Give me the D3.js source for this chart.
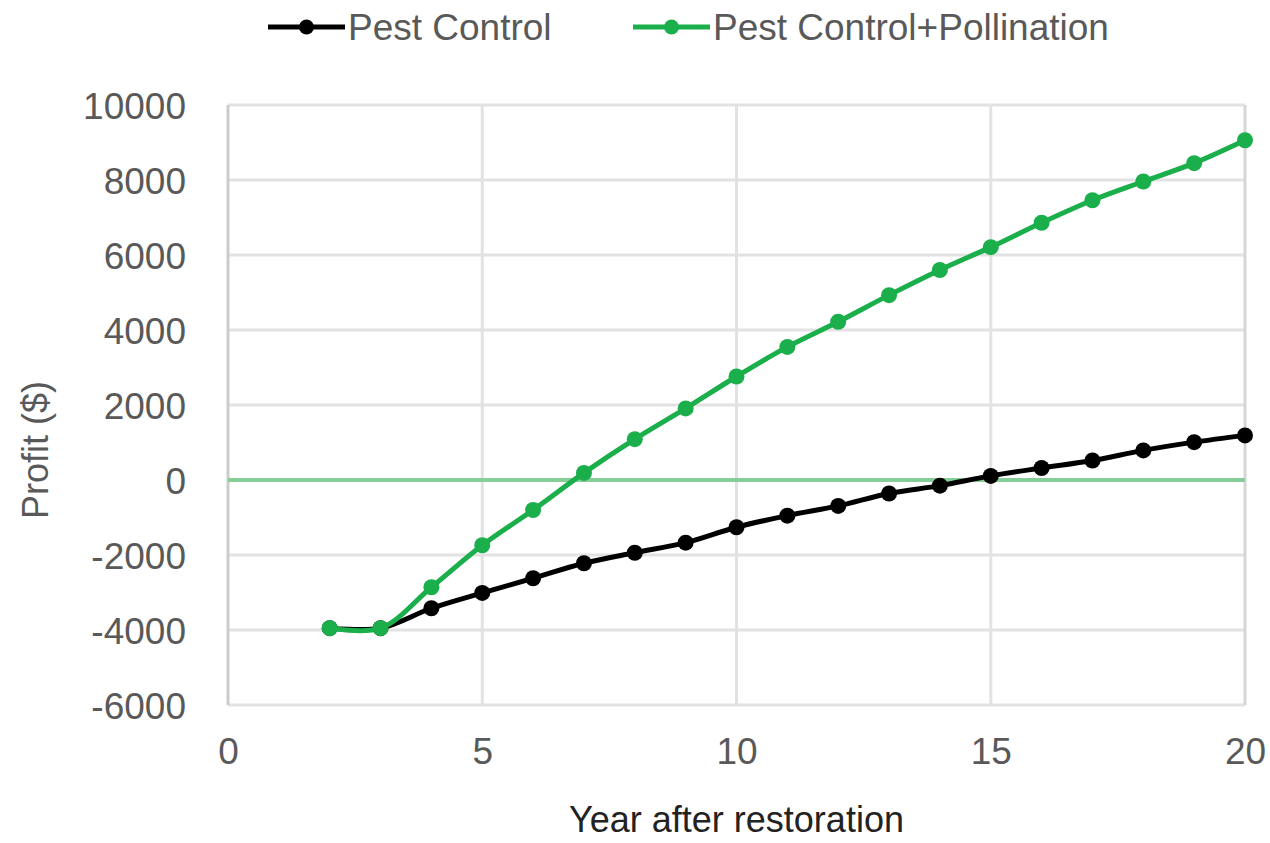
<!DOCTYPE html>
<html>
<head>
<meta charset="utf-8">
<script src="https://cdn.jsdelivr.net/npm/d3@7"></script>
<style>
  body { margin: 0; background: #fff; }
  text { font-family: "Liberation Sans", Arial, sans-serif; fill: #595959; }
</style>
</head>
<body>
<div id="chart"></div>
<script>
// Year after restoration
const years = [2, 3, 4, 5, 6, 7, 8, 9, 10, 11, 12, 13, 14, 15, 16, 17, 18, 19, 20];

// Profit ($) per series
const pestControl = [-3950, -3950, -3420, -3010, -2620, -2220, -1940, -1670, -1260, -950, -690, -360, -150, 110, 320, 520, 790, 1010, 1190];
const pestPollination = [-3950, -3950, -2860, -1740, -800, 190, 1090, 1910, 2760, 3550, 4220, 4930, 5600, 6210, 6860, 7460, 7960, 8450, 9060];

const xTicks = [0, 5, 10, 15, 20];
const yTicks = [-6000, -4000, -2000, 0, 2000, 4000, 6000, 8000, 10000];

const seriesNames = ["Pest Control", "Pest Control+Pollination"];
const seriesColors = ["#000000", "#1aaf4b"];

// chart box
const margin = { top: 105, right: 25, bottom: 138, left: 228 },
    width = 1270 - margin.left - margin.right,
    height = 843 - margin.top - margin.bottom;

const svg = d3.select("#chart")
    .append("svg")
    .attr("width", 1270)
    .attr("height", 843);

const g = svg.append("g")
    .attr("transform", `translate(${margin.left},${margin.top})`);

const x = d3.scaleLinear().domain([0, 20]).range([0, width]);
const y = d3.scaleLinear().domain([-6000, 10000]).range([height, 0]);

// plain hyphen for negatives, like the original
const fmt = d => String(d);

// gridlines
g.append("g")
    .selectAll("line")
    .data(yTicks)
    .join("line")
    .attr("x1", 0).attr("x2", width)
    .attr("y1", d => y(d)).attr("y2", d => y(d))
    .attr("stroke", "#e2e2e2")
    .attr("stroke-width", 3);

g.append("g")
    .selectAll("line")
    .data(xTicks.slice(1))
    .join("line")
    .attr("x1", d => x(d)).attr("x2", d => x(d))
    .attr("y1", 0).attr("y2", height)
    .attr("stroke", d => d === 20 ? "#d6d6d6" : "#e2e2e2")
    .attr("stroke-width", 3);

// left axis line
g.append("line")
    .attr("x1", 0).attr("x2", 0)
    .attr("y1", 0).attr("y2", height)
    .attr("stroke", "#cccccc")
    .attr("stroke-width", 3);

// axes (tick labels only)
const yAxis = g.append("g")
    .call(d3.axisLeft(y).tickValues(yTicks).tickSize(0).tickPadding(42).tickFormat(fmt));
yAxis.select(".domain").remove();
yAxis.selectAll("text")
    .style("font-size", "37px")
    .attr("fill", "#595959")
    .attr("dy", "0.36em");

const xAxis = g.append("g")
    .attr("transform", `translate(0,${height})`)
    .call(d3.axisBottom(x).tickValues(xTicks).tickSize(0).tickPadding(33).tickFormat(fmt));
xAxis.select(".domain").remove();
xAxis.selectAll("text")
    .style("font-size", "37px")
    .attr("fill", "#595959");

// axis titles
svg.append("text")
    .attr("x", margin.left + x(10))
    .attr("y", 832)
    .attr("text-anchor", "middle")
    .style("font-size", "36px")
    .style("fill", "#222")
    .text("Year after restoration");

svg.append("text")
    .attr("transform", "translate(48,450) rotate(-90)")
    .attr("text-anchor", "middle")
    .style("font-size", "36px")
    .text("Profit ($)");

// zero reference line
g.append("line")
    .attr("x1", 0).attr("x2", width)
    .attr("y1", y(0)).attr("y2", y(0))
    .attr("stroke", "#84cf97")
    .attr("stroke-width", 4);

// series
const seriesData = [pestControl, pestPollination].map((vals, i) => ({
    name: seriesNames[i],
    color: seriesColors[i],
    values: years.map((yr, j) => ({ year: yr, value: vals[j] }))
}));

const lineGen = d3.line()
    .x(d => x(d.year))
    .y(d => y(d.value))
    .curve(d3.curveCatmullRom.alpha(0.5));

seriesData.forEach(s => {
    g.append("path")
        .datum(s.values)
        .attr("fill", "none")
        .attr("stroke", s.color)
        .attr("stroke-width", 5)
        .attr("d", lineGen);

    g.append("g")
        .selectAll("circle")
        .data(s.values)
        .join("circle")
        .attr("cx", d => x(d.year))
        .attr("cy", d => y(d.value))
        .attr("r", 8)
        .attr("fill", s.color);
});

// legend
const legendPos = [268, 633];
seriesData.forEach((s, i) => {
    const lg = svg.append("g").attr("transform", `translate(${legendPos[i]},27)`);
    lg.append("line")
        .attr("x1", 0).attr("x2", 77)
        .attr("stroke", s.color)
        .attr("stroke-width", 5);
    lg.append("circle")
        .attr("cx", 38.5)
        .attr("r", 7.5)
        .attr("fill", s.color);
    lg.append("text")
        .attr("x", 80)
        .attr("dy", "0.36em")
        .style("font-size", "37px")
        .text(s.name);
});
</script>
</body>
</html>
